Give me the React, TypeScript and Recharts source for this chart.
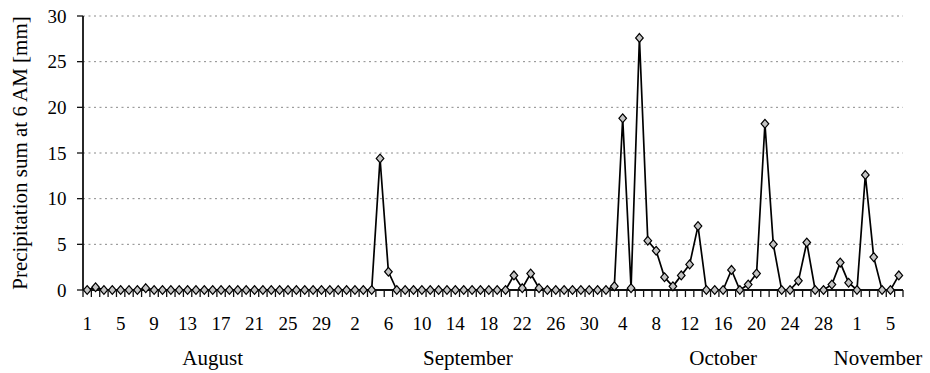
import React from 'react';
import { LineChart, Line, XAxis, YAxis, CartesianGrid, Label } from 'recharts';

// Precipitation sum at 6 AM [mm], one value per day
const monthNames = ['August', 'September', 'October', 'November'];
const august = [0, 0.3, 0, 0, 0, 0, 0, 0.2, 0, 0, 0, 0, 0, 0, 0, 0, 0, 0, 0, 0, 0, 0, 0, 0, 0, 0, 0, 0, 0, 0, 0];
const september = [0, 0, 0, 0, 14.4, 2.0, 0, 0, 0, 0, 0, 0, 0, 0, 0, 0, 0, 0, 0, 0, 1.6, 0.2, 1.8, 0.2, 0, 0, 0, 0, 0, 0];
const october = [0, 0, 0.4, 18.8, 0.2, 27.6, 5.4, 4.3, 1.4, 0.4, 1.6, 2.8, 7.0, 0, 0, 0, 2.2, 0, 0.6, 1.8, 18.2, 5.0, 0, 0, 1.0, 5.2, 0, 0, 0.6, 3.0, 0.8];
const november = [0, 12.6, 3.6, 0, 0, 1.6];
const monthValues = [august, september, october, november];
const yTicks = [0, 5, 10, 15, 20, 25, 30];
const dayLabelStep = 4;
const yLabel = 'Precipitation sum at 6 AM [mm]';

type Row = { i: number; day: number; month: number; precip: number };
const rows: Row[] = [];
monthValues.forEach((vals, m) => {
  vals.forEach((v, k) => {
    rows.push({ i: rows.length, day: k + 1, month: m, precip: v });
  });
});

const n = rows.length;
const xDomain: [number, number] = [-0.5, n - 0.5];
const allDayTicks = rows.map((r) => r.i);
const monthTicks = monthNames.map((_, m) => {
  const idx = rows.filter((r) => r.month === m).map((r) => r.i);
  return (idx[0] + idx[idx.length - 1]) / 2;
});

const FONT = 'Liberation Serif, Times New Roman, serif';
const CHART_W = 930;
const CHART_H = 373;
const Y_AXIS_W = 83;
const MARGIN = { top: 16, right: 27, bottom: 81, left: 0 };
const HALF_BAND = (CHART_W - Y_AXIS_W - MARGIN.right - MARGIN.left) / n / 2;
const MARK_LEN = 7;
const DAY_BASELINE = 39.5;

const Diamond = (props: any) => {
  const { cx, cy, index } = props;
  if (cx == null || cy == null) return null;
  const w = 3.8;
  const h = 4.4;
  return (
    <path
      key={`d-${index}`}
      d={`M${cx},${cy - h}L${cx + w},${cy}L${cx},${cy + h}L${cx - w},${cy}Z`}
      fill="#c4c4c4"
      stroke="#000"
      strokeWidth={1.2}
    />
  );
};

// every category tick: boundary mark on its left (and right for the last), label every 4th day
const DayTick = (props: any) => {
  const { x, y, payload } = props;
  const v = Math.round(payload?.value as number);
  const left = x - HALF_BAND;
  const right = x + HALF_BAND;
  return (
    <g>
      <line x1={left} x2={left} y1={y} y2={y + MARK_LEN} stroke="#111" strokeWidth={1.3} />
      {v === n - 1 && <line x1={right} x2={right} y1={y} y2={y + MARK_LEN} stroke="#111" strokeWidth={1.3} />}
      {v % dayLabelStep === 0 && (
        <text x={x} y={y + DAY_BASELINE} textAnchor="middle" fontSize={19} fill="#000" fontFamily={FONT}>
          {rows[v]?.day}
        </text>
      )}
    </g>
  );
};

export default function App() {
  return (
    <div style={{ position: 'absolute', left: 0, top: 0, width: CHART_W, height: CHART_H, background: '#fff' }}>
      <LineChart width={CHART_W} height={CHART_H} data={rows} margin={MARGIN} style={{ fontFamily: FONT }}>
        <CartesianGrid horizontal vertical={false} stroke="#8a8a8a" strokeDasharray="2 3.5" />
        <XAxis
          dataKey="i"
          type="number"
          domain={xDomain}
          ticks={allDayTicks}
          interval={0}
          tick={<DayTick />}
          tickSize={0}
          tickMargin={0}
          tickLine={false}
          axisLine={{ stroke: '#111', strokeWidth: 1.8 }}
          height={1}
        />
        <XAxis
          xAxisId="months"
          dataKey="i"
          type="number"
          domain={xDomain}
          ticks={monthTicks}
          interval={0}
          tickFormatter={(v: number) => monthNames[monthTicks.indexOf(v)] ?? ''}
          tickSize={0}
          tickMargin={59}
          tickLine={false}
          axisLine={false}
          tick={{ fill: '#000', fontSize: 21, fontFamily: FONT }}
          height={1}
        />
        <YAxis
          type="number"
          domain={[0, 30]}
          ticks={yTicks}
          interval={0}
          width={Y_AXIS_W}
          tickSize={6}
          tickMargin={10.5}
          tick={{ fill: '#000', fontSize: 19, fontFamily: FONT }}
          tickLine={{ stroke: '#111', strokeWidth: 1.3 }}
          axisLine={{ stroke: '#111', strokeWidth: 1.8 }}
        >
          <Label value={yLabel} angle={-90} position="center" dx={-22} fontSize={21} fill="#000" fontFamily={FONT} />
        </YAxis>
        <Line
          type="linear"
          dataKey="precip"
          stroke="#000"
          strokeWidth={1.7}
          dot={<Diamond />}
          activeDot={false}
          isAnimationActive={false}
        />
      </LineChart>
    </div>
  );
}
